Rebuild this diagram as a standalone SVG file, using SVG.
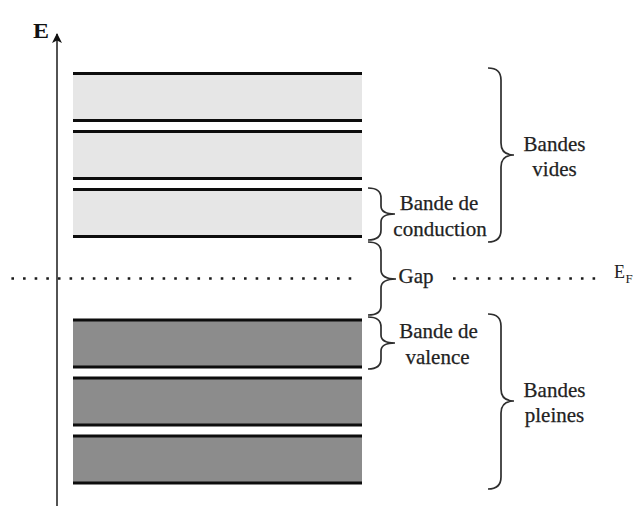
<svg xmlns="http://www.w3.org/2000/svg" width="643" height="507" viewBox="0 0 643 507">
<defs>
<marker id="arr" viewBox="0 0 10 10" refX="9" refY="5" markerWidth="10" markerHeight="10" markerUnits="userSpaceOnUse" orient="auto">
<path d="M0,0 L10,5 L0,10 L2.5,5 Z" fill="#111"/>
</marker>
<style>
.lt{fill:#e6e6e6}
.dk{fill:#8c8c8c}
.edge{stroke:#0d0d0d;stroke-width:3.2;fill:none}
.br{stroke:#2e2e2e;stroke-width:1.7;fill:none}
.dot{stroke:#1a1a1a;stroke-width:2.6;stroke-dasharray:2.6 9.03;fill:none}
.t{font-family:"Liberation Serif","Times New Roman",serif;fill:#222;font-size:21px;text-anchor:middle;stroke:#222;stroke-width:0.25}
.ax{font-family:"Liberation Serif","Times New Roman",serif;fill:#111;font-size:20px;font-weight:bold}
.ef{font-family:"Liberation Serif","Times New Roman",serif;fill:#222;font-size:18px}
.sub{font-family:"Liberation Serif","Times New Roman",serif;fill:#222;font-size:13px}
</style>
</defs>
<rect width="643" height="507" fill="#fff"/>
<g id="bands-vides">
<g id="band1"><rect class="lt" x="73" y="73.5" width="289" height="47"/><path class="edge" d="M73,73.5H362M73,120.5H362"/></g>
<g id="band2"><rect class="lt" x="73" y="131.5" width="289" height="47"/><path class="edge" d="M73,131.5H362M73,178.5H362"/></g>
<g id="band3"><rect class="lt" x="73" y="189.5" width="289" height="47"/><path class="edge" d="M73,189.5H362M73,236.5H362"/></g>
</g>
<g id="bands-pleines">
<g id="band4"><rect class="dk" x="73" y="320" width="289" height="47"/><path class="edge" d="M73,320H362M73,367H362"/></g>
<g id="band5"><rect class="dk" x="73" y="378" width="289" height="47"/><path class="edge" d="M73,378H362M73,425H362"/></g>
<g id="band6"><rect class="dk" x="73" y="436" width="289" height="47"/><path class="edge" d="M73,436H362M73,483H362"/></g>
</g>
<g id="fermi">
<path class="dot" d="M11.4,278.5H352"/>
<path class="dot" d="M453,278.5H597"/>
</g>
<g id="axis">
<line x1="57" y1="506" x2="57" y2="34" stroke="#1a1a1a" stroke-width="1.5" marker-end="url(#arr)"/>
<text class="ax" x="33" y="37.5" textLength="16" lengthAdjust="spacingAndGlyphs">E</text>
</g>
<g id="connectors">
<path class="br" d="M488,68 Q501,68 501,80 L501,143 Q501,155 514,155 Q501,155 501,167 L501,230 Q501,242 488,242"/>
<path class="br" d="M488,314 Q501,314 501,326 L501,389 Q501,401 514,401 Q501,401 501,413 L501,477 Q501,489 488,489"/>
<path class="br" d="M368,188 Q381,188 381,198 L381,206 Q381,214 395,214 Q381,214 381,222 L381,230 Q381,240 368,240"/>
<path class="br" d="M368,242 Q381,242 381,252 L381,270 Q381,279 396,279 Q381,279 381,288 L381,306 Q381,315 368,315"/>
<path class="br" d="M368,317 Q381,317 381,327 L381,335 Q381,343 395,343 Q381,343 381,351 L381,359 Q381,369 368,369"/>
</g>
<g id="label-vides">
<text class="t" x="554.5" y="151">Bandes</text>
<text class="t" x="554.5" y="176">vides</text>
</g>
<g id="label-conduction">
<text class="t" x="439" y="210">Bande de</text>
<text class="t" x="440" y="236">conduction</text>
</g>
<g id="label-gap">
<text class="t" x="416" y="283">Gap</text>
</g>
<g id="label-ef">
<text class="ef" x="614" y="277.5">E</text>
<text class="sub" x="625.5" y="283">F</text>
</g>
<g id="label-valence">
<text class="t" x="438.5" y="338">Bande de</text>
<text class="t" x="437.5" y="364">valence</text>
</g>
<g id="label-pleines">
<text class="t" x="554.5" y="397">Bandes</text>
<text class="t" x="554.5" y="422">pleines</text>
</g>
</svg>
